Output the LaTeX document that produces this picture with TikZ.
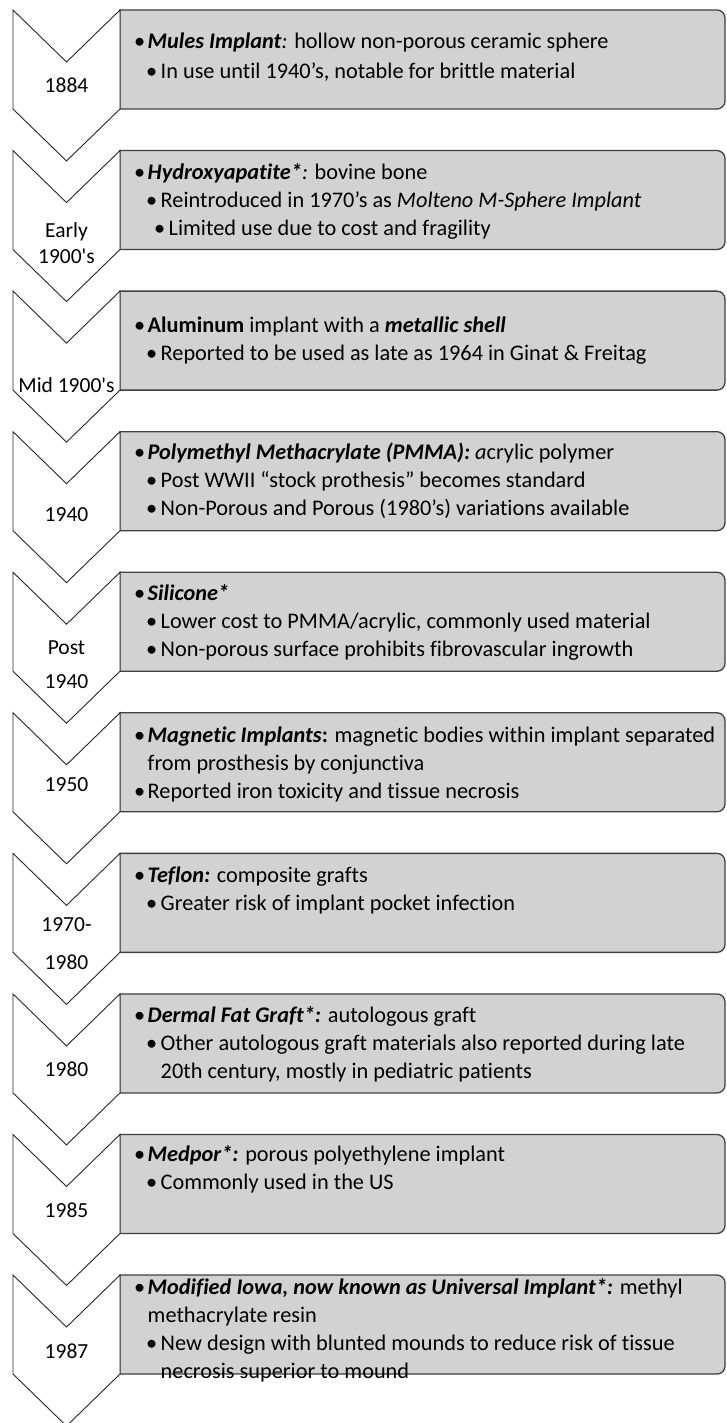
\documentclass[tikz,border=0pt]{standalone}
\usepackage{fontspec}
\setmainfont[Ligatures={NoCommon,TeXOff}]{Carlito}

% bullet levels and hanging indents
\newcommand{\bA}{\strut\makebox[13.5pt][l]{\textbullet}}
\newcommand{\bB}{\strut\hspace*{12pt}\makebox[14.5pt][l]{\textbullet}}
\newcommand{\bC}{\strut\hspace*{20pt}\makebox[14.5pt][l]{\textbullet}}
\newcommand{\cA}{\strut\hspace*{13.5pt}}
\newcommand{\cB}{\strut\hspace*{26.5pt}}
\newcommand{\bi}[1]{\textbf{\textit{#1}}}

\tikzset{
  chev/.style={draw=black!85, fill=white, line width=0.9pt, line join=miter},
  panel/.style={draw=black!75, fill=gray!35, line width=1.3pt},
  datelbl/.style={font=\fontsize{21.5}{26}\selectfont, align=center, inner sep=0pt},
  itemtxt/.style={font=\fontsize{22.3}{28}\selectfont, align=left, anchor=north west, inner sep=0pt},
}

\begin{document}
\begin{tikzpicture}[x=1pt,y=1pt]
    \useasboundingbox (0,0) rectangle (726,-1423);

    % Gray panels and chevrons
    \foreach \i in {0,...,9} {
        \pgfmathsetmacro\yT{-10-\i*140.56}
        \draw[panel] (120,\yT) -- (717,\yT) arc[start angle=90,end angle=0,radius=8]
            -- (725,\yT-91) arc[start angle=0,end angle=-90,radius=8] -- (120,\yT-99) -- cycle;
        \draw[chev] (13,\yT) -- (66.5,\yT-52) -- (120,\yT) -- (120,\yT-99)
            -- (66.5,\yT-151) -- (13,\yT-99) -- cycle;
    }

    % Dates
    \node[datelbl] (d1) at (66.5,-85) {1884};
    \node[datelbl] (d2) at (66.5,-243) {Early\\1900's};
    \node[datelbl] (d3) at (66.5,-385) {Mid 1900's};
    \node[datelbl] (d4) at (66.5,-515) {1940};
    \node[datelbl] (d5) at (66.5,-665) {Post\\[8pt]1940};
    \node[datelbl] (d6) at (66.5,-785) {1950};
    \node[datelbl] (d7) at (66.5,-944) {1970-\\[12pt]1980};
    \node[datelbl] (d8) at (66.5,-1069) {1980};
    \node[datelbl] (d9) at (66.5,-1210) {1985};
    \node[datelbl] (d10) at (66.5,-1351) {1987};

    % Panel texts
    \node[itemtxt, font=\fontsize{22.3}{30}\selectfont] (t1) at (134,-27.4) {%
        \bA\bi{Mules Implant}\textit{:} hollow non-porous ceramic sphere\\
        \bB In use until 1940’s, notable for brittle material};
    \node[itemtxt] (t2) at (134,-159.4) {%
        \bA\bi{Hydroxyapatite*}\textit{:} bovine bone\\
        \bB Reintroduced in 1970’s as \textit{Molteno M-Sphere Implant}\\
        \bC Limited use due to cost and fragility};
    \node[itemtxt] (t3) at (134,-312.4) {%
        \bA\textbf{Aluminum} implant with a \bi{metallic shell}\\
        \bB Reported to be used as late as 1964 in Ginat \& Freitag};
    \node[itemtxt] (t4) at (134,-439.4) {%
        \bA\bi{Polymethyl Methacrylate (PMMA):} \textit{a}crylic polymer\\
        \bB Post WWII “stock prothesis” becomes standard\\
        \bB Non-Porous and Porous (1980’s) variations available};
    \node[itemtxt] (t5) at (134,-580.4) {%
        \bA\bi{Silicone*}\\
        \bB Lower cost to PMMA/acrylic, commonly used material\\
        \bB Non-porous surface prohibits fibrovascular ingrowth};
    \node[itemtxt] (t6) at (134,-722.4) {%
        \bA\bi{Magnetic Implants}\textbf{:} magnetic bodies within implant separated\\
        \cA from prosthesis by conjunctiva\\
        \bA Reported iron toxicity and tissue necrosis};
    \node[itemtxt] (t7) at (134,-862.4) {%
        \bA\bi{Teflon:} composite grafts\\
        \bB Greater risk of implant pocket infection};
    \node[itemtxt] (t8) at (134,-1002.4) {%
        \bA\bi{Dermal Fat Graft*:} autologous graft\\
        \bB Other autologous graft materials also reported during late\\
        \cB 20th century, mostly in pediatric patients};
    \node[itemtxt] (t9) at (134,-1141.4) {%
        \bA\bi{Medpor*:} porous polyethylene implant\\
        \bB Commonly used in the US};
    \node[itemtxt] (t10) at (134,-1274.4) {%
        \bA\bi{Modified Iowa, now known as Universal Implant*:} methyl\\
        \cA methacrylate resin\\
        \bB New design with blunted mounds to reduce risk of tissue\\
        \cB necrosis superior to mound};

\end{tikzpicture}
\end{document}
